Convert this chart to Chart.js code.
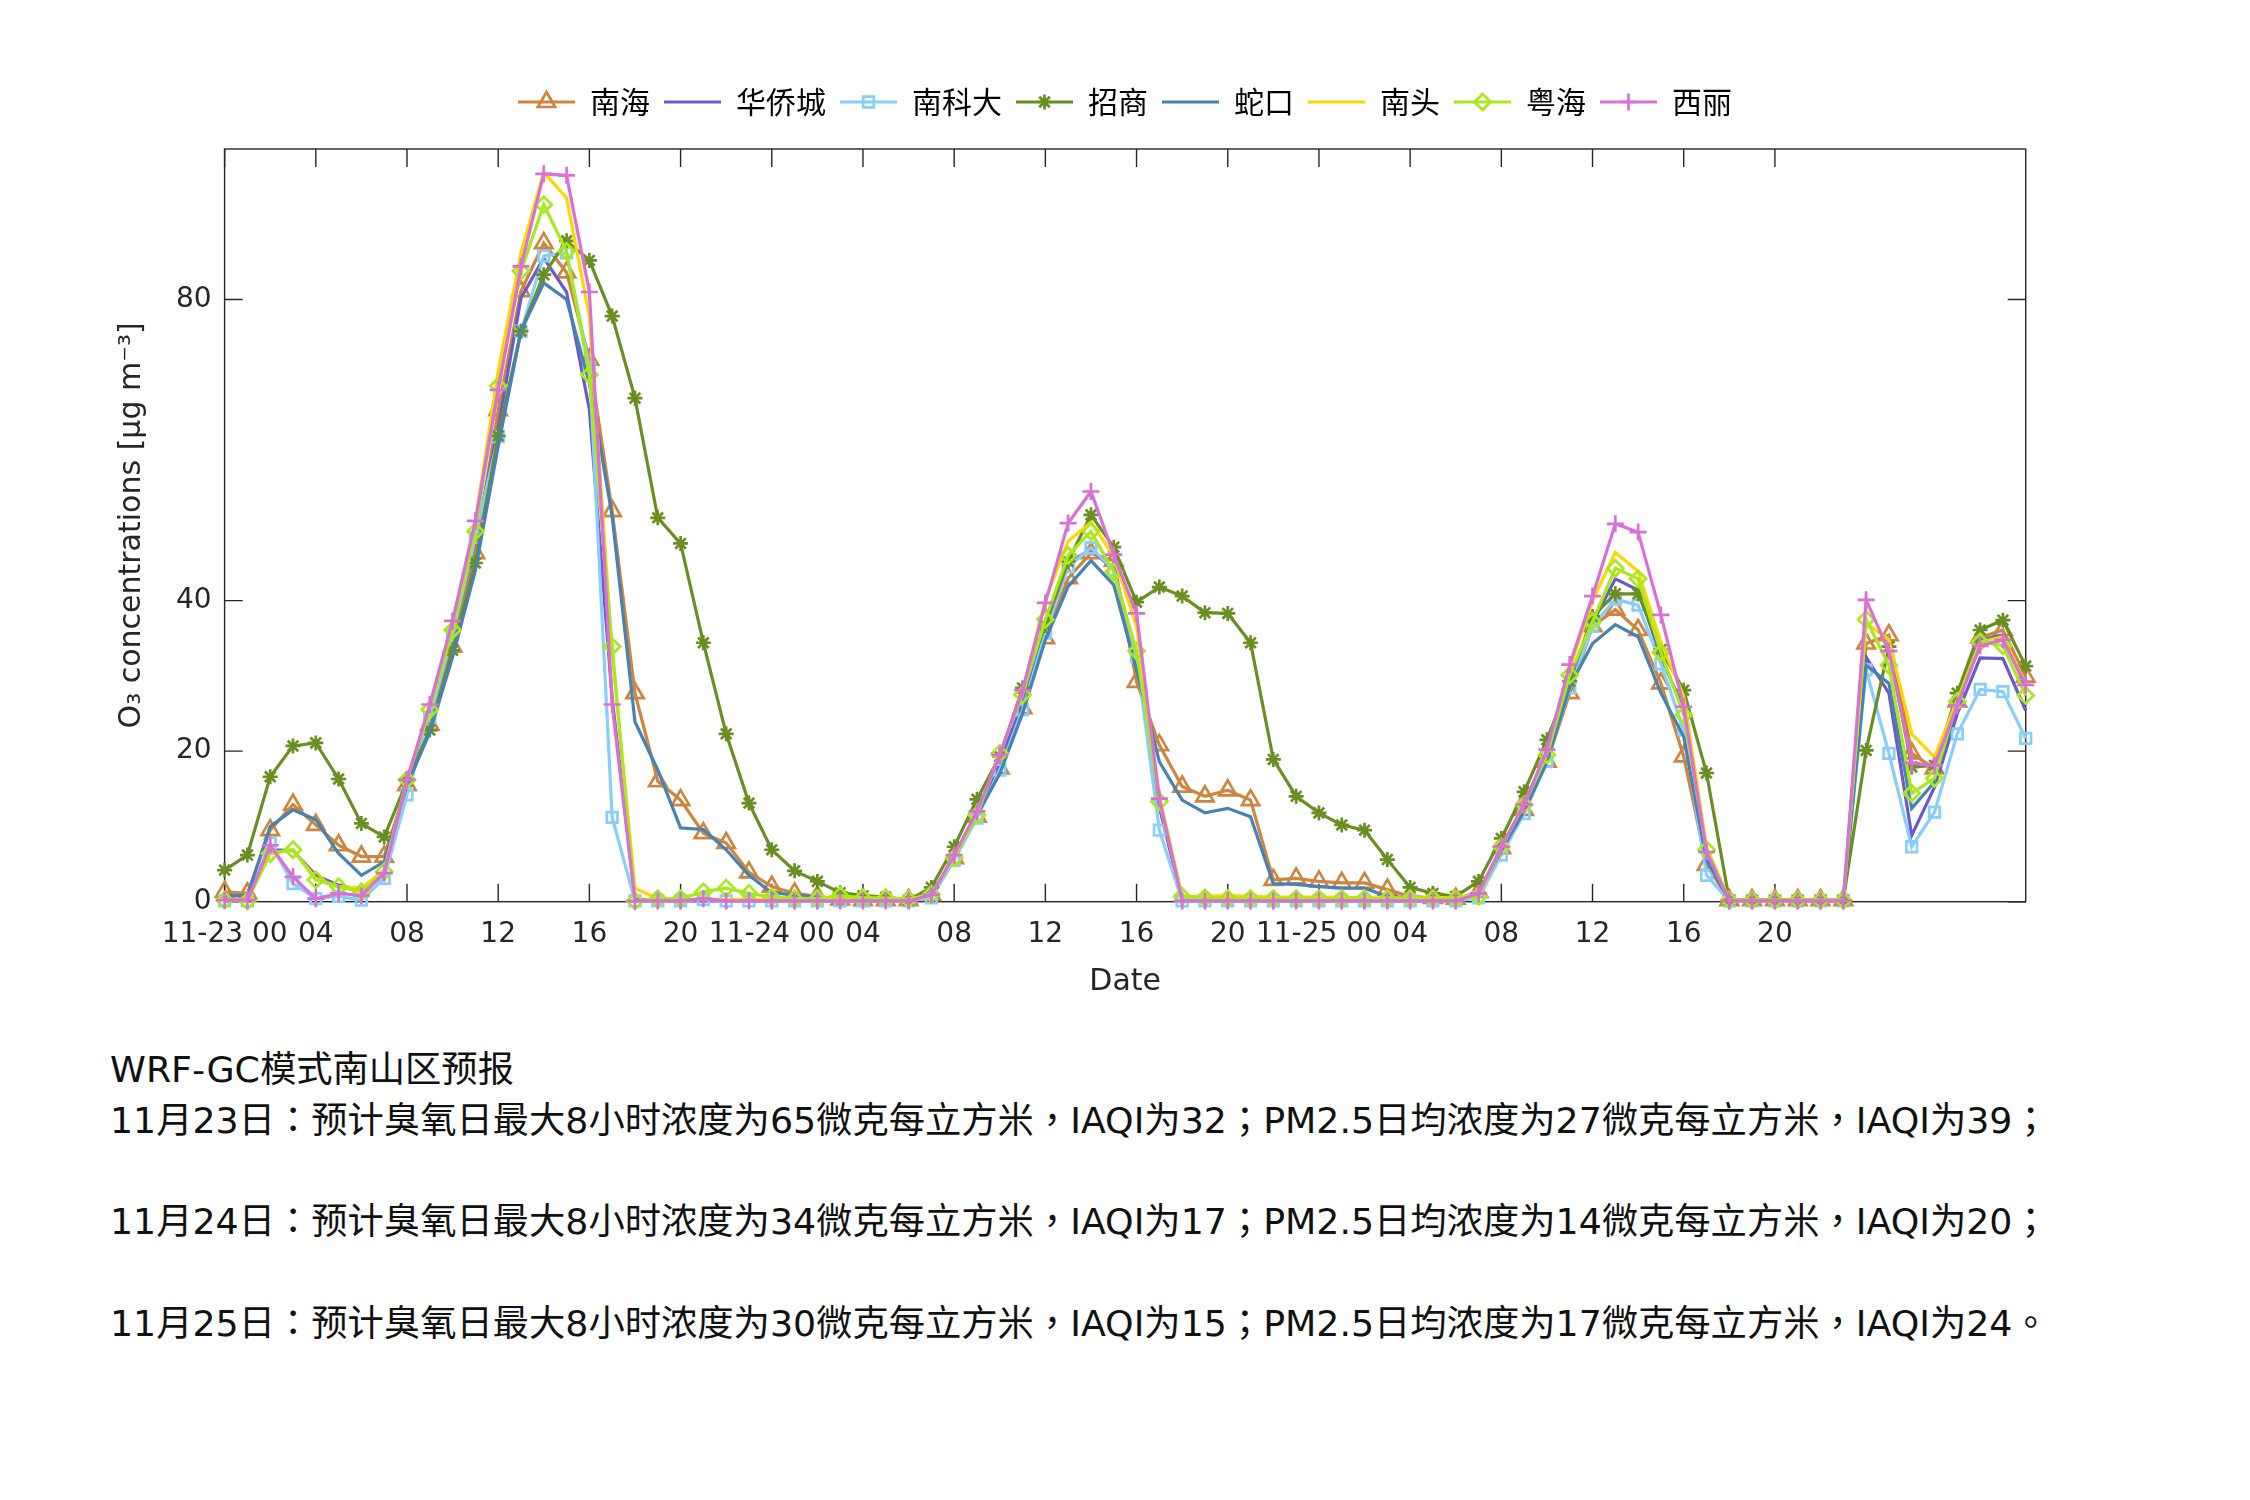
<!DOCTYPE html>
<html>
<head>
<meta charset="utf-8">
<script src="https://cdn.jsdelivr.net/npm/chart.js@4.4.1/dist/chart.umd.min.js"></script>
<style>
html,body{margin:0;padding:0;background:#fff;}
body{width:2250px;height:1500px;position:relative;overflow:hidden;}
#wrap{position:absolute;left:0;top:0;width:2250px;height:1020px;}
#notes{position:absolute;left:110px;top:1045px;font-family:'DejaVu Sans','Noto Sans CJK TC','Noto Sans CJK SC',sans-serif;font-size:36.3px;line-height:50.7px;color:#111;white-space:pre;text-spacing-trim:space-all;}
</style>
</head>
<body>
<div id="wrap"><canvas id="c"></canvas></div>
<div id="notes">WRF-GC模式南山区预报
11月23日：预计臭氧日最大8小时浓度为65微克每立方米，IAQI为32；PM2.5日均浓度为27微克每立方米，IAQI为39；

11月24日：预计臭氧日最大8小时浓度为34微克每立方米，IAQI为17；PM2.5日均浓度为14微克每立方米，IAQI为20；

11月25日：预计臭氧日最大8小时浓度为30微克每立方米，IAQI为15；PM2.5日均浓度为17微克每立方米，IAQI为24。</div>
<script>
// ---- data ----
const hourTicks = [0,4,8,12,16,20,24,28,32,36,40,44,48,52,56,60,64,68];
const hourTickLabels = ['11-23 00','04','08','12','16','20','11-24 00','04','08','12','16','20','11-25 00','04','08','12','16','20'];
const yTicks = [0,20,40,80];
const stations = ['南海','华侨城','南科大','招商','蛇口','南头','粤海','西丽'];

const nanhai = [1.3,1.1,9.5,12.9,10.2,7.5,6.0,6.0,15.5,23.5,
 33.9,46.3,65.3,81.1,87.5,83.6,72.0,51.9,27.7,16.0,
 13.5,9.1,7.8,3.9,2.0,1.1,0.7,0.3,0.2,0.2,
 0.2,0.9,5.8,11.3,17.7,25.7,35.0,43.0,46.3,45.3,
 29.2,20.8,15.3,14.0,14.8,13.5,2.9,3.1,2.7,2.5,
 2.5,1.6,0.7,0.5,0.4,1.3,7.1,12.2,18.6,27.7,
 36.6,38.8,36.1,29.0,19.3,4.9,0.2,0.2,0.2,0.2,
 0.2,0.2,34.3,35.4,19.7,17.7,26.6,35.1,36.1,29.9];
const huaqiaocheng = [0.3,0.3,6.9,6.8,3.5,2.2,1.5,4.0,16.0,24.5,
 35.5,48.0,63.0,80.2,85.5,81.0,65.4,27.0,0.3,0.2,
 0.2,0.2,0.2,0.2,0.2,0.2,0.2,0.2,0.2,0.2,
 0.2,0.9,6.0,11.5,18.5,26.5,36.1,45.0,46.8,44.1,
 32.6,12.6,0.2,0.2,0.2,0.2,0.2,0.2,0.2,0.2,
 0.2,0.2,0.2,0.2,0.2,1.0,7.0,12.5,19.5,29.0,
 37.0,42.9,41.4,32.6,25.5,6.4,0.2,0.2,0.2,0.2,
 0.2,0.2,32.5,27.7,8.8,15.2,25.0,32.4,32.3,25.4];
const nankeda = [0.1,0.1,7.8,2.4,0.4,0.7,0.2,3.1,14.2,24.5,
 35.5,48.4,61.8,75.8,85.8,86.2,71.0,11.2,0.1,0.1,
 0.1,0.3,0.1,0.1,0.1,0.1,0.1,0.1,0.1,0.1,
 0.1,0.5,5.5,11.1,17.5,25.5,35.7,44.5,47.0,44.1,
 32.6,9.5,0.1,0.1,0.1,0.1,0.1,0.1,0.1,0.1,
 0.1,0.1,0.1,0.1,0.1,0.5,6.2,11.7,18.6,28.4,
 36.6,40.2,39.4,31.6,22.8,3.5,0.1,0.1,0.1,0.1,
 0.1,0.1,30.8,19.7,7.3,11.9,22.3,28.2,27.9,21.7];
const zhaoshang = [4.2,6.2,16.6,20.7,21.1,16.3,10.4,8.6,16.0,22.8,
 33.4,45.0,61.9,75.8,83.3,87.8,85.2,77.8,66.9,51.0,
 47.6,34.4,22.3,13.1,6.9,4.1,2.7,1.2,0.8,0.6,
 0.2,1.9,7.3,13.6,19.3,28.4,36.7,45.2,51.4,47.1,
 39.8,41.8,40.6,38.4,38.3,34.4,18.9,14.0,11.8,10.2,
 9.5,5.6,1.9,1.1,0.7,2.7,8.4,14.6,21.5,29.3,
 37.9,40.9,40.9,33.5,28.1,17.1,0.2,0.2,0.2,0.2,
 0.2,0.2,20.1,33.9,17.9,18.1,27.7,36.1,37.4,31.3];
const shekou = [0.8,0.8,10.0,12.2,10.9,6.4,3.5,5.3,15.5,22.5,
 32.5,44.0,60.5,75.8,82.2,80.0,68.9,51.2,23.9,17.5,
 9.8,9.6,6.9,3.5,1.2,0.9,0.6,0.4,0.3,0.3,
 0.2,1.0,6.0,11.5,17.0,25.0,34.8,41.9,45.3,42.1,
 30.8,18.6,13.5,11.8,12.4,11.3,2.4,2.3,2.0,1.8,
 1.8,0.7,0.5,0.4,0.3,1.2,6.8,12.0,18.5,28.6,
 34.3,36.8,35.2,27.7,21.9,5.5,0.2,0.2,0.2,0.2,
 0.2,0.2,31.4,29.0,12.4,15.9,26.3,34.8,35.4,28.5];
const nantou = [0.3,0.3,6.4,6.9,3.1,2.0,1.8,4.2,16.2,26.0,
 37.0,50.5,70.5,86.2,96.9,93.5,77.8,33.0,1.8,0.4,
 0.3,0.3,0.3,0.3,0.3,0.3,0.3,0.3,0.3,0.3,
 0.3,1.0,6.0,11.8,19.5,28.0,40.1,47.9,50.4,45.9,
 36.6,14.0,0.7,0.7,0.8,0.7,0.6,0.6,0.6,0.6,
 0.5,0.5,0.5,0.5,0.5,1.0,7.2,13.0,20.0,31.0,
 40.0,46.4,43.9,34.4,27.3,7.3,0.2,0.2,0.2,0.2,
 0.2,0.2,37.0,34.8,22.3,19.2,26.8,34.5,35.2,29.0];
const yuehai = [0.2,0.1,6.4,6.9,2.9,2.0,1.3,4.0,16.2,25.5,
 36.1,49.2,68.5,83.8,92.6,86.4,70.0,33.9,0.1,0.4,
 0.4,1.3,1.8,1.1,0.6,0.4,0.4,0.8,0.5,0.5,
 0.3,1.0,5.8,11.5,19.7,27.5,37.5,46.0,49.2,43.8,
 33.3,13.3,0.7,0.5,0.4,0.4,0.4,0.4,0.4,0.4,
 0.4,0.4,0.4,0.4,0.4,0.7,7.3,12.9,19.5,30.1,
 37.2,44.3,42.9,33.1,24.8,6.9,0.2,0.2,0.2,0.2,
 0.2,0.2,37.5,31.4,14.4,16.4,26.6,34.5,34.0,27.4];
const xili = [0.2,0.2,7.5,3.3,0.4,1.1,0.8,3.8,16.2,26.2,
 37.3,50.6,68.0,84.4,96.7,96.5,81.0,26.2,0.1,0.1,
 0.1,0.4,0.1,0.1,0.1,0.1,0.1,0.1,0.1,0.1,
 0.1,0.9,6.2,12.0,19.5,28.1,39.7,50.3,54.5,46.1,
 38.3,13.7,0.1,0.1,0.1,0.1,0.1,0.1,0.1,0.1,
 0.1,0.1,0.1,0.1,0.1,1.1,7.3,12.9,20.2,31.5,
 40.6,50.2,49.1,38.1,25.9,6.6,0.1,0.1,0.1,0.1,
 0.1,0.1,40.1,33.3,18.4,18.1,26.1,34.0,34.8,28.8];

const seriesValues = [nanhai, huaqiaocheng, nankeda, zhaoshang, shekou, nantou, yuehai, xili];

// ---- styles ----
const styles = [
  {color:'#CD853F', marker:'triangle', r:10},
  {color:'#6A5ACD', marker:null, r:0},
  {color:'#87CEFA', marker:'rect', r:7.5},
  {color:'#6B8E23', marker:'star', r:7.5},
  {color:'#4682B4', marker:null, r:0},
  {color:'#FFD700', marker:null, r:0},
  {color:'#AAE81E', marker:'rectRot', r:8},
  {color:'#DA70D6', marker:'cross', r:8.5}
];
const TXT = '#262626';
const tickFont = {family:"'DejaVu Sans', sans-serif", size:28};
const titleFont = {family:"'DejaVu Sans', sans-serif", size:30};

// legend icons: line with marker in the middle
const legendIcons = styles.map(st => {
  const cv = document.createElement('canvas');
  cv.width = 57; cv.height = 26;
  const g = cv.getContext('2d');
  g.strokeStyle = st.color; g.lineWidth = 3.2;
  g.beginPath(); g.moveTo(0, 13); g.lineTo(57, 13); g.stroke();
  if (st.marker) {
    g.fillStyle = 'rgba(0,0,0,0)';
    g.lineWidth = 2.7;
    Chart.helpers.drawPoint(g, {pointStyle: st.marker, radius: st.r, borderWidth: 2.7, rotation: 0}, 28.5, 13);
  }
  return cv;
});

const datasets = stations.map((name, i) => {
  const st = styles[i];
  return {
    label: name,
    data: seriesValues[i].map((v, h) => ({x: h, y: v})),
    xAxisID: 'x', yAxisID: 'y',
    borderColor: st.color,
    backgroundColor: 'rgba(0,0,0,0)',
    borderWidth: 3.2,
    tension: 0,
    fill: false,
    pointStyle: st.marker || 'circle',
    pointRadius: st.marker ? st.r : 0,
    pointHoverRadius: st.marker ? st.r : 0,
    pointBorderWidth: 2.7,
    pointBorderColor: st.color,
    pointBackgroundColor: 'rgba(0,0,0,0)',
    clip: false,
    order: 7 - i
  };
});

const frame = {
  id: 'frame',
  beforeDatasetsDraw(chart) {
    const {ctx, chartArea: a, scales} = chart;
    const L = 18;
    ctx.save();
    ctx.strokeStyle = TXT;
    ctx.lineWidth = 1.4;
    ctx.strokeRect(a.left, a.top, a.right - a.left, a.bottom - a.top);
    ctx.beginPath();
    scales.x.ticks.forEach(t => {
      const px = scales.x.getPixelForValue(t.value);
      ctx.moveTo(px, a.bottom); ctx.lineTo(px, a.bottom - L);
      ctx.moveTo(px, a.top); ctx.lineTo(px, a.top + L);
    });
    scales.y.ticks.forEach(t => {
      const py = scales.y.getPixelForValue(t.value);
      ctx.moveTo(a.left, py); ctx.lineTo(a.left + L, py);
      ctx.moveTo(a.right, py); ctx.lineTo(a.right - L, py);
    });
    ctx.stroke();
    ctx.restore();
  }
};

new Chart(document.getElementById('c'), {
  type: 'line',
  data: {datasets},
  plugins: [frame],
  options: {
    responsive: true,
    maintainAspectRatio: false,
    animation: false,
    devicePixelRatio: 1,
    layout: {padding: {top: 73, left: 0, right: 0, bottom: 0}},
    plugins: {
      tooltip: {enabled: false},
      legend: {
        position: 'top',
        align: 'center',
        labels: {
          usePointStyle: true,
          pointStyleWidth: 57,
          padding: 14,
          color: '#000',
          font: {family: "'Noto Sans CJK SC', sans-serif", size: 30},
          generateLabels(chart) {
            const items = Chart.defaults.plugins.legend.labels.generateLabels(chart);
            items.sort((a, b) => a.datasetIndex - b.datasetIndex);
            items.forEach(it => { it.pointStyle = legendIcons[it.datasetIndex]; it.fontColor = '#000'; });
            return items;
          }
        }
      }
    },
    scales: {
      x: {
        type: 'linear', position: 'bottom', min: 0, max: 79,
        afterBuildTicks(s) { s.ticks = hourTicks.map(v => ({value: v})); },
        afterFit(s) { s.height = 118.3; },
        grid: {display: false, drawTicks: false},
        border: {display: false},
        ticks: {
          autoSkip: false, maxRotation: 0, minRotation: 0, padding: 16,
          color: TXT, font: tickFont,
          callback(v) { const k = hourTicks.indexOf(v); return k >= 0 ? hourTickLabels[k] : ''; }
        },
        title: {display: true, text: 'Date', color: TXT, font: titleFont, padding: {top: 0, bottom: 20}}
      },
      xTop: {
        type: 'linear', position: 'top', display: true,
        afterFit(s) { s.height = 22; },
        grid: {display: false, drawTicks: false}, border: {display: false}, ticks: {display: false}
      },
      y: {
        type: 'linear', position: 'left', min: 0, max: 100,
        afterBuildTicks(s) { s.ticks = yTicks.map(v => ({value: v})); },
        afterFit(s) { s.width = 224.6; },
        grid: {display: false, drawTicks: false},
        border: {display: false},
        ticks: {padding: 13, color: TXT, font: tickFont},
        title: {display: true, text: 'O₃ concentrations [μg m⁻³]', color: TXT, font: titleFont, padding: {top: 114, bottom: 0}}
      },
      yRight: {
        type: 'linear', position: 'right', display: true,
        afterFit(s) { s.width = 224.3; },
        grid: {display: false, drawTicks: false}, border: {display: false}, ticks: {display: false}
      }
    }
  }
});
</script>
</body>
</html>
